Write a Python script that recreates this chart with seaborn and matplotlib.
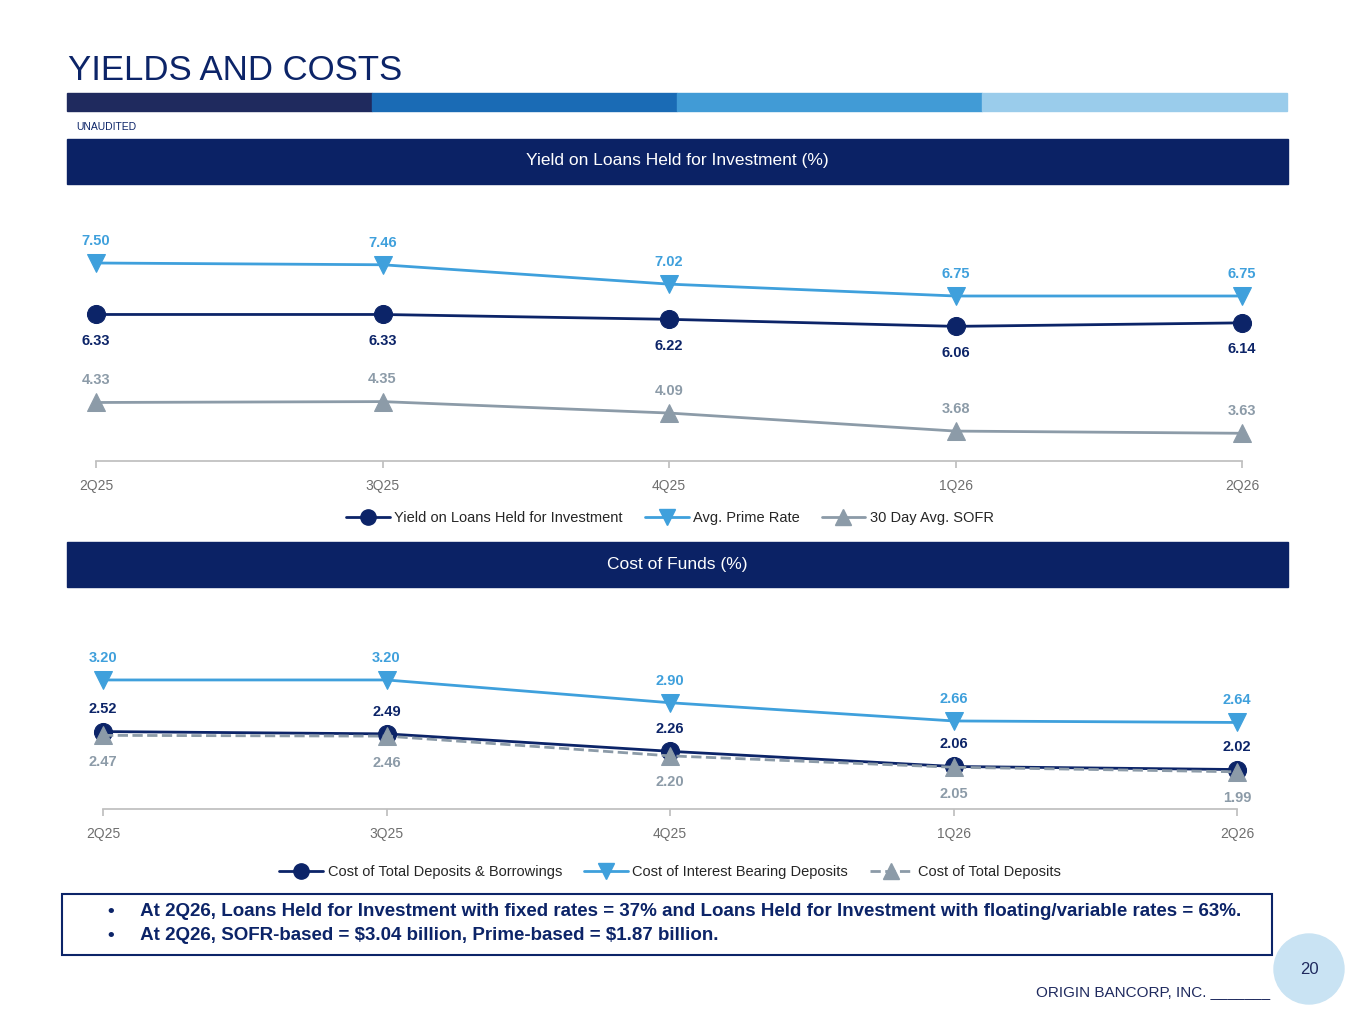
import numpy as np
import pandas as pd
import seaborn as sns
from matplotlib import pyplot as plt
from matplotlib.patches import Rectangle, Ellipse
from matplotlib.lines import Line2D

quarters = ["2Q25", "3Q25", "4Q25", "1Q26", "2Q26"]
yield_loans = [6.33, 6.33, 6.22, 6.06, 6.14]
prime_rate = [7.50, 7.46, 7.02, 6.75, 6.75]
sofr = [4.33, 4.35, 4.09, 3.68, 3.63]
cost_funds = [2.52, 2.49, 2.26, 2.06, 2.02]
cost_ib_dep = [3.20, 3.20, 2.90, 2.66, 2.64]
cost_tot_dep = [2.47, 2.46, 2.20, 2.05, 1.99]

NAVY = "#0C2468"
BLUE = "#3FA0DC"
GREY = "#8C9BA8"
W, H = 1365, 1024

sns.set_theme(style="white")
plt.rcParams['font.family'] = ['Liberation Sans', 'DejaVu Sans']
fig = plt.figure(figsize=(W / 100, H / 100), dpi=100)

def fx(x): return x / W
def fy(y): return 1 - y / H

def box(x0, y0, x1, y1, color, **kw):
    fig.patches.append(Rectangle((fx(x0), fy(y1)), fx(x1 - x0), (y1 - y0) / H,
                                 transform=fig.transFigure, color=color, **kw))

fig.text(fx(68), fy(70), "YIELDS AND COSTS", fontsize=25, color=NAVY, va="center")
for i, c in enumerate(["#1F2A5E", "#1A6BB5", "#419BD6", "#9ACCEB"]):
    box(67 + i * 305, 93, 67 + (i + 1) * 305, 111, c)
fig.text(fx(76), fy(127), "UNAUDITED", fontsize=7.5, color=NAVY, va="center")

box(67, 139, 1288, 184, "#0B2265")
fig.text(fx(677), fy(161), "Yield on Loans Held for Investment (%)", fontsize=12.5, color="white", ha="center", va="center")
box(67, 542, 1288, 587, "#0B2265")
fig.text(fx(677), fy(564), "Cost of Funds (%)", fontsize=12.5, color="white", ha="center", va="center")

def panel(x0, x1, ybot, ytop, ylim, series, legend_y):
    ax = fig.add_axes([fx(x0), fy(ybot), fx(x1 - x0), (ybot - ytop) / H])
    ax.set_facecolor("none")
    xs = np.arange(len(quarters))
    handles = []
    for name, vals, color, marker, ls, pos in series:
        df = pd.DataFrame({"q": xs, "v": vals})
        sns.lineplot(data=df, x="q", y="v", ax=ax, color=color, marker=marker, markersize=13,
                     linewidth=2, linestyle=ls, markeredgecolor=color, clip_on=False)
        for i, v in enumerate(vals):
            ax.annotate(f"{v:.2f}", (i, v), xytext=(0, pos), textcoords="offset points",
                        ha="center", va="center", fontsize=10.5, fontweight="bold", color=color)
        handles.append(Line2D([], [], color=color, marker=marker, markersize=11, linewidth=2,
                              linestyle=ls, label=name))
    ax.set_ylim(*ylim)
    ax.set_xticks(xs)
    ax.set_xticklabels(quarters, color="#6E6E6E", fontsize=10)
    ax.set_yticks([])
    ax.set_xlabel("")
    ax.set_ylabel("")
    for s in ["top", "left", "right"]:
        ax.spines[s].set_visible(False)
    ax.spines["bottom"].set_color("#BFBFBF")
    ax.tick_params(axis="x", length=5, color="#BFBFBF", bottom=True, pad=8)
    ax.set_xlim(0.0, 4.0)
    fig.legend(handles=handles, loc="center", bbox_to_anchor=(fx(670), fy(legend_y)), ncol=3,
               frameon=False, fontsize=10.5, handlelength=3, columnspacing=1.5, handletextpad=0.3)
    return ax

panel(96, 1242, 461, 241, (3.0, 8.0), [
    ("Yield on Loans Held for Investment", yield_loans, NAVY, "o", "-", -19),
    ("Avg. Prime Rate", prime_rate, BLUE, "v", "-", 16),
    ("30 Day Avg. SOFR", sofr, GREY, "^", "-", 16),
], 518)

panel(103, 1237, 809, 642, (1.5, 3.7), [
    ("Cost of Total Deposits & Borrowings", cost_funds, NAVY, "o", "-", 16),
    ("Cost of Interest Bearing Deposits", cost_ib_dep, BLUE, "v", "-", 16),
    ("Cost of Total Deposits", cost_tot_dep, GREY, "^", "--", -19),
], 872)

box(62, 894, 1272, 955, "none", fill=False, ec=NAVY, lw=1.5)
fig.text(fx(108), fy(912), "•     At 2Q26, Loans Held for Investment with fixed rates = 37% and Loans Held for Investment with floating/variable rates = 63%.",
         fontsize=13.5, fontweight="bold", color=NAVY, va="center")
fig.text(fx(108), fy(935), "•     At 2Q26, SOFR-based = \\$3.04 billion, Prime-based = \\$1.87 billion.",
         fontsize=13.5, fontweight="bold", color=NAVY, va="center")

fig.patches.append(Ellipse((fx(1309), fy(969)), 70 / W, 70 / H, transform=fig.transFigure, color="#C9E3F3"))
fig.text(fx(1309), fy(970), "20", fontsize=12, color="#1F2A5E", ha="center", va="center")
fig.text(fx(1270), fy(992), "ORIGIN BANCORP, INC. _______", fontsize=11, color="#1F2A5E", ha="right", va="center")

fig.savefig("out.png", dpi=100)
